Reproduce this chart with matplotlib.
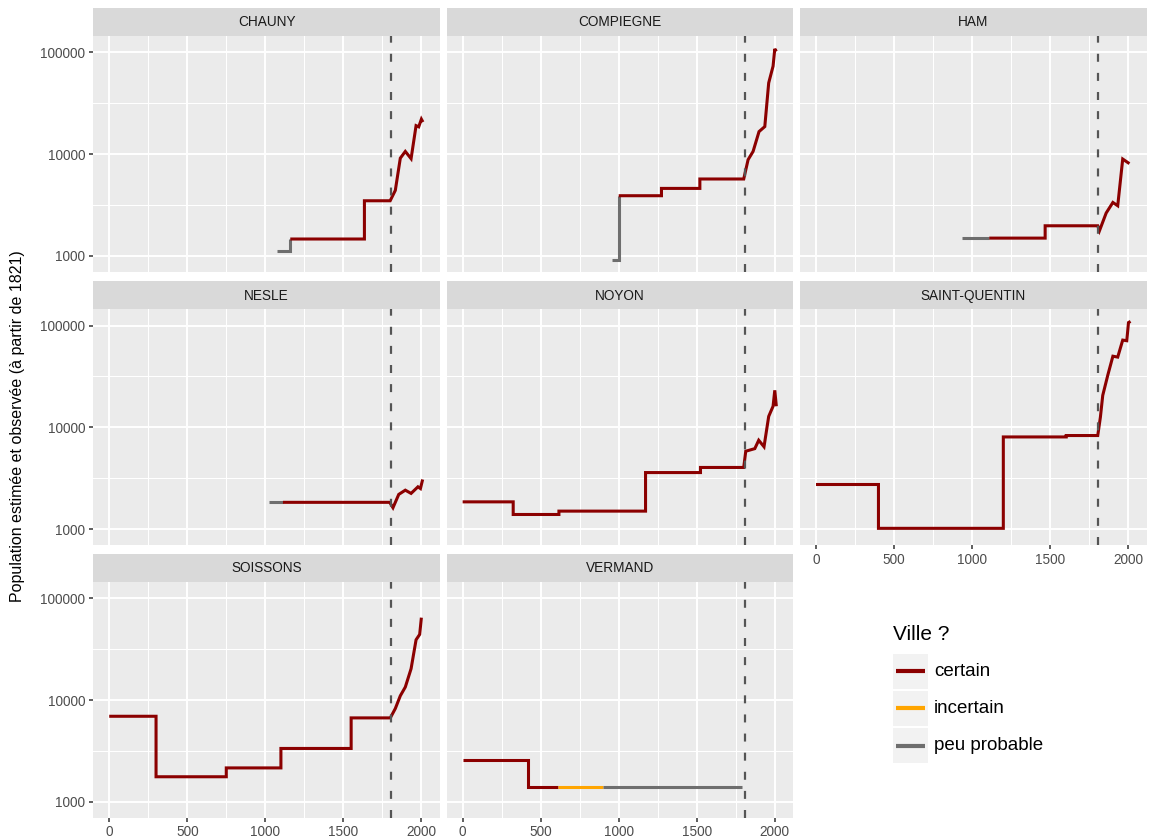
import matplotlib
matplotlib.use("Agg")
import matplotlib.pyplot as plt
from matplotlib.lines import Line2D
from matplotlib.patches import Rectangle

plt.rcParams['font.family'] = ['Liberation Sans', 'DejaVu Sans']

# ---------------- data ----------------
CITIES = ["CHAUNY", "COMPIEGNE", "HAM", "NESLE", "NOYON", "SAINT-QUENTIN", "SOISSONS", "VERMAND"]
STATUS_LABELS = ["certain", "incertain", "peu probable"]
STATUS_COLORS = ["#8B0000", "#FFA500", "#6E6E6E"]
VLINE_YEAR = 1808

X_TICKS = [0, 500, 1000, 1500, 2000]
Y_TICKS = [1000, 10000, 100000]

chauny_peu_years = [1075, 1160, 1160]
chauny_peu_pop = [1120, 1120, 1460]
chauny_cert_years = [1160, 1635, 1635, 1800, 1833, 1865, 1897, 1934, 1966, 1983, 2000, 2010]
chauny_cert_pop = [1460, 1460, 3470, 3470, 4390, 9100, 10600, 9000, 19000, 18500, 22000, 20600]

compiegne_peu_years = [955, 1000, 1000]
compiegne_peu_pop = [915, 915, 3890]
compiegne_cert_years = [1000, 1274, 1274, 1520, 1520, 1801, 1829, 1861, 1899, 1936, 1961, 1989, 2000, 2010]
compiegne_cert_pop = [3890, 3890, 4590, 4590, 5680, 5680, 8790, 10600, 16600, 18600, 50000, 73000, 108000, 102000]

ham_peu_years = [933, 1110]
ham_peu_pop = [1490, 1490]
ham_cert_years = [1110, 1468, 1468, 1805, 1816, 1859, 1902, 1933, 1965, 2008]
ham_cert_pop = [1490, 1490, 1970, 1970, 1760, 2630, 3340, 3100, 8920, 8040]

nesle_peu_years = [1021, 1113]
nesle_peu_pop = [1830, 1830]
nesle_cert_years = [1113, 1797, 1818, 1855, 1897, 1934, 1978, 1994, 2008]
nesle_cert_pop = [1830, 1830, 1620, 2190, 2410, 2240, 2600, 2500, 3070]

noyon_cert_years = [0, 324, 324, 617, 617, 1172, 1172, 1524, 1524, 1801, 1814, 1872, 1897, 1931, 1961, 1989, 2000, 2010]
noyon_cert_pop = [1850, 1850, 1390, 1390, 1500, 1500, 3590, 3590, 4030, 4030, 5820, 6170, 7460, 6440, 12800, 16100, 23100, 16100]

stq_cert_years = [0, 400, 400, 1200, 1200, 1603, 1603, 1805, 1822, 1837, 1869, 1902, 1933, 1965, 1991, 2002, 2015]
stq_cert_pop = [2740, 2740, 1016, 1016, 8040, 8040, 8300, 8300, 12600, 20600, 32400, 50000, 49000, 72000, 71000, 107000, 110000]

soissons_cert_years = [0, 300, 300, 750, 750, 1100, 1100, 1550, 1550, 1801, 1833, 1865, 1897, 1934, 1966, 1989, 2000]
soissons_cert_pop = [6920, 6920, 1760, 1760, 2150, 2150, 3340, 3340, 6670, 6670, 8240, 11000, 13400, 20300, 39100, 44100, 64500]

vermand_cert_years = [0, 420, 420, 612]
vermand_cert_pop = [2560, 2560, 1400, 1400]
vermand_inc_years = [612, 900]
vermand_inc_pop = [1400, 1400]
vermand_peu_years = [900, 1790]
vermand_peu_pop = [1400, 1400]

# (years, pops, status index) per city
series = {
    "CHAUNY": [(chauny_peu_years, chauny_peu_pop, 2), (chauny_cert_years, chauny_cert_pop, 0)],
    "COMPIEGNE": [(compiegne_peu_years, compiegne_peu_pop, 2), (compiegne_cert_years, compiegne_cert_pop, 0)],
    "HAM": [(ham_peu_years, ham_peu_pop, 2), (ham_cert_years, ham_cert_pop, 0)],
    "NESLE": [(nesle_peu_years, nesle_peu_pop, 2), (nesle_cert_years, nesle_cert_pop, 0)],
    "NOYON": [(noyon_cert_years, noyon_cert_pop, 0)],
    "SAINT-QUENTIN": [(stq_cert_years, stq_cert_pop, 0)],
    "SOISSONS": [(soissons_cert_years, soissons_cert_pop, 0)],
    "VERMAND": [(vermand_cert_years, vermand_cert_pop, 0), (vermand_inc_years, vermand_inc_pop, 1),
                (vermand_peu_years, vermand_peu_pop, 2)],
}

# ---------------- layout ----------------
W, H = 1150, 839
fig = plt.figure(figsize=(W / 100, H / 100), dpi=100)
fig.patch.set_facecolor("white")

col_left = [93.3, 446.7, 800.1]
panel_w = 346.5
panel_top = [36.0, 309.3, 582.0]
panel_h = 235.5
strip_h = 28.5

XLIM = (-102, 2118)
YLIM = (10 ** 2.845, 10 ** 5.16)
minor_x = [250, 750, 1250, 1750]
minor_y = [10 ** 3.5, 10 ** 4.5]


def fax(left, top, w, h):
    return [left / W, 1 - (top + h) / H, w / W, h / H]


for i, city in enumerate(CITIES):
    r, c = divmod(i, 3)
    ax = fig.add_axes(fax(col_left[c], panel_top[r], panel_w, panel_h))
    ax.set_facecolor("#EBEBEB")
    ax.set_yscale("log")
    ax.set_xlim(*XLIM)
    ax.set_ylim(*YLIM)
    for s in ax.spines.values():
        s.set_visible(False)
    # grid
    for mx in minor_x:
        ax.axvline(mx, color="white", lw=0.75, zorder=0.5)
    for my in minor_y:
        ax.axhline(my, color="white", lw=0.75, zorder=0.5)
    for xt in X_TICKS:
        ax.axvline(xt, color="white", lw=1.4, zorder=0.6)
    for yt in Y_TICKS:
        ax.axhline(yt, color="white", lw=1.4, zorder=0.6)
    ax.set_xticks(X_TICKS)
    ax.set_yticks(Y_TICKS)
    ax.minorticks_off()
    ax.set_yticks([], minor=True)
    ax.tick_params(axis="both", length=3.2, width=1.1, color="#333333",
                   labelcolor="#4D4D4D", labelsize=9.8, pad=2.5)
    ax.set_xticklabels([str(t) for t in X_TICKS])
    ax.set_yticklabels([str(t) for t in Y_TICKS])
    show_x = (r == 2) or (r == 1 and c == 2)
    show_y = (c == 0)
    if not show_x:
        ax.tick_params(axis="x", length=0, labelbottom=False)
    if not show_y:
        ax.tick_params(axis="y", length=0, labelleft=False)

    for yrs, pops, st in series[city]:
        ax.plot(yrs, pops, color=STATUS_COLORS[st], lw=2.2, solid_joinstyle="miter",
                solid_capstyle="butt", zorder=3)
    ax.axvline(VLINE_YEAR, color="#555555", lw=1.6, linestyle=(0, (3.6, 5.0)), zorder=4)

    # strip
    sax = fig.add_axes(fax(col_left[c], panel_top[r] - strip_h, panel_w, strip_h))
    sax.set_facecolor("#D9D9D9")
    sax.set_xticks([])
    sax.set_yticks([])
    for s in sax.spines.values():
        s.set_visible(False)
    sax.text(0.5, 0.48, city, ha="center", va="center", fontsize=9.8, color="#1A1A1A",
             transform=sax.transAxes)

# y label
fig.text(18 / W, 1 - 426 / H, "Population estimée et observée (à partir de 1821)",
         rotation=90, ha="center", va="center", fontsize=11.5, color="black")

# legend
fig.text(893 / W, 1 - 634 / H, "Ville ?", ha="left", va="center", fontsize=15, color="black")
key_centers = [671, 708.3, 745.7]
for yc, lab, col in zip(key_centers, STATUS_LABELS, STATUS_COLORS):
    fig.patches.append(Rectangle((892.7 / W, 1 - (yc + 17.5) / H), 35.6 / W, 35 / H,
                                 transform=fig.transFigure, facecolor="#F2F2F2",
                                 edgecolor="none", zorder=1))
    fig.lines.append(Line2D([896 / W, 925 / W], [1 - yc / H, 1 - yc / H],
                            transform=fig.transFigure, color=col, lw=3.0,
                            solid_capstyle="butt", zorder=2))
    fig.text(934 / W, 1 - yc / H, lab, ha="left", va="center", fontsize=13.5, color="black")

fig.savefig("out.png", dpi=100)
